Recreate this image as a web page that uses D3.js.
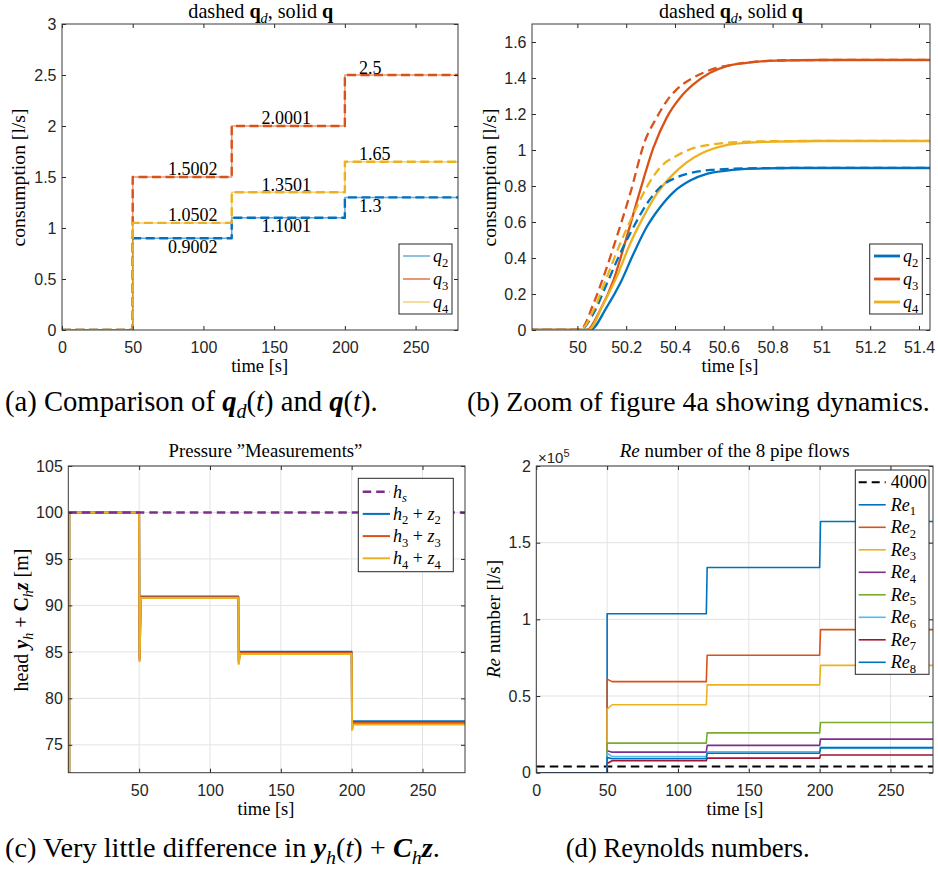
<!DOCTYPE html>
<html>
<head>
<meta charset="utf-8">
<script src="https://cdn.jsdelivr.net/npm/d3@7"></script>
<style>
body { margin: 0; background: #fff; }
svg text { white-space: pre; }
.tick text { font-family: "Liberation Sans", Arial, sans-serif; font-size: 16px; fill: #262626; }
</style>
</head>
<body>
<svg id="fig" width="938" height="871"></svg>
<script>
// ---------- data ----------
var colors = ["#0072BD", "#D95319", "#EDB120", "#7E2F8E", "#77AC30", "#4DBEEE", "#A2142F"];

// (a) demand steps: level starts at these times and holds until tEnd
var stepT = [0, 50, 120, 200];
var tEnd = 280;
var qd2 = [0, 0.9002, 1.1001, 1.3];
var qd3 = [0, 1.5002, 2.0001, 2.5];
var qd4 = [0, 1.0502, 1.3501, 1.65];
var labelT = [75, 141, 210];          // where the value labels sit (time)
var labelAbove = [false, true, true]; // q2 below, q3 & q4 above

// (b) zoom on the first step
var qd2T = [50.011, 50.066, 50.121, 50.175, 50.23, 50.284, 50.339, 50.407, 50.475, 50.557, 50.694, 50.885];
var qd2V = [0, 0.092, 0.258, 0.424, 0.572, 0.70, 0.793, 0.848, 0.876, 0.89, 0.898, 0.9002];
var q2T = [50.052, 50.121, 50.175, 50.23, 50.284, 50.339, 50.393, 50.462, 50.53, 50.612, 50.721, 50.885];
var q2V = [0, 0.129, 0.258, 0.424, 0.572, 0.682, 0.765, 0.83, 0.867, 0.885, 0.896, 0.9];
var qd3T = [50.011, 50.066, 50.107, 50.161, 50.216, 50.277, 50.325, 50.366, 50.407, 50.462, 50.516, 50.571, 50.639, 50.721, 50.885, 51.1];
var qd3V = [0, 0.147, 0.295, 0.516, 0.756, 1.051, 1.18, 1.272, 1.337, 1.392, 1.429, 1.456, 1.475, 1.49, 1.499, 1.5002];
var q3T = [50.038, 50.093, 50.148, 50.202, 50.257, 50.312, 50.366, 50.421, 50.475, 50.544, 50.612, 50.694, 50.817, 50.995];
var q3V = [0, 0.11, 0.277, 0.516, 0.774, 1.014, 1.18, 1.29, 1.364, 1.429, 1.466, 1.484, 1.497, 1.5];
var qd4T = [50.011, 50.066, 50.121, 50.175, 50.23, 50.284, 50.339, 50.407, 50.475, 50.557, 50.667, 50.817, 51.0];
var qd4V = [0, 0.11, 0.295, 0.479, 0.645, 0.793, 0.903, 0.968, 1.01, 1.032, 1.045, 1.049, 1.0502];
var q4T = [50.045, 50.107, 50.161, 50.216, 50.27, 50.325, 50.38, 50.448, 50.516, 50.598, 50.694, 50.817, 50.995];
var q4V = [0, 0.147, 0.295, 0.479, 0.627, 0.756, 0.848, 0.931, 0.986, 1.023, 1.04, 1.047, 1.05];

// (c) heads: level per step, and the dip right at each step
var hs = 100;
var h2 = [100, 90.96, 85.02, 77.54], h2dip = [84.3, 84.0, 76.9];
var h3 = [100, 90.87, 84.88, 77.35], h3dip = [84.1, 83.8, 76.7];
var h4 = [100, 90.79, 84.77, 77.18], h4dip = [84.0, 83.7, 76.6];
var hStart = 60;

// (d) Reynolds numbers per step, and value just after t = 50
var reLimit = 4000;
var re1 = [0, 103700, 133800, 163800], re1at50 = 103700;
var re2 = [0, 59400, 76600, 93300],    re2at50 = 61000;
var re3 = [0, 44300, 57300, 70000],    re3at50 = 41500;
var re4 = [0, 13400, 17800, 21900],    re4at50 = 14300;
var re5 = [0, 19300, 26000, 32700],    re5at50 = 19300;
var re6 = [0, 10500, 13700, 16500],    re6at50 = 12800;
var re7 = [0, 7800, 9500, 11500],      re7at50 = 6000;
var re8 = [0, 9100, 12700, 16200],     re8at50 = 10000;

// ---------- helpers ----------
var SERIF = '"Liberation Serif", "DejaVu Serif", serif';
var svg = d3.select("#fig");
var clipN = 0;

// rich text: segs = [[text, "b"/"i"/"bi", 1 sub | -1 sup], ...]
function richText(g, x, y, segs, size, anchor, rotate) {
    var t = g.append("text")
        .attr("x", x).attr("y", y)
        .attr("font-family", SERIF)
        .attr("font-size", size)
        .attr("fill", "#000")
        .attr("text-anchor", anchor || "start");
    if (rotate) t.attr("transform", "rotate(-90," + x + "," + y + ")");
    var shift = 0;
    segs.forEach(function(s) {
        var st = s[1] || "";
        var want = s[2] === 1 ? size * 0.25 : (s[2] === -1 ? -size * 0.4 : 0);
        var ts = t.append("tspan").text(s[0]).attr("dy", want - shift);
        shift = want;
        if (st.indexOf("i") >= 0) ts.attr("font-style", "italic");
        if (st.indexOf("b") >= 0) ts.attr("font-weight", "bold");
        if (s[2]) ts.attr("font-size", size * 0.7);
    });
    return t;
}

// same, but sized so the text runs to the given width (the reference uses a wider font)
function fitText(g, x, y, segs, width, anchor, rotate) {
    var t = richText(g, x, y, segs, 20, anchor, rotate);
    var w = t.node().getComputedTextLength();
    t.remove();
    return richText(g, x, y, segs, 20 * width / w, anchor, rotate);
}

function makePanel(f, xd, yd, grid, xt, yt) {
    var g = svg.append("g");
    var x = d3.scaleLinear().domain(xd).range([f.l, f.r]);
    var y = d3.scaleLinear().domain(yd).range([f.b, f.t]);
    if (grid) {
        g.selectAll("line.gx").data(xt).enter().append("line")
            .attr("x1", x).attr("x2", x).attr("y1", f.t).attr("y2", f.b)
            .attr("stroke", "#e3e3e3").attr("stroke-width", 1);
        g.selectAll("line.gy").data(yt).enter().append("line")
            .attr("y1", y).attr("y2", y).attr("x1", f.l).attr("x2", f.r)
            .attr("stroke", "#e3e3e3").attr("stroke-width", 1);
    }
    var id = "clip" + (clipN++);
    svg.append("clipPath").attr("id", id).append("rect")
        .attr("x", f.l).attr("y", f.t).attr("width", f.r - f.l).attr("height", f.b - f.t);
    var plot = g.append("g").attr("clip-path", "url(#" + id + ")");
    return { g: g, x: x, y: y, f: f, plot: plot, xt: xt, yt: yt };
}

function drawAxes(p, fmtX, fmtY) {
    var f = p.f, g = p.g;
    function style(a) { a.select(".domain").remove(); a.style("color", "#262626"); }
    g.append("g").attr("transform", "translate(0," + f.b + ")")
        .call(d3.axisBottom(p.x).tickValues(p.xt).tickFormat(fmtX).tickSizeInner(-4).tickSizeOuter(0).tickPadding(11.5))
        .call(style);
    g.append("g").attr("transform", "translate(" + f.l + ",0)")
        .call(d3.axisLeft(p.y).tickValues(p.yt).tickFormat(fmtY).tickSizeInner(-4).tickSizeOuter(0).tickPadding(5.5))
        .call(style);
    g.append("g").attr("transform", "translate(0," + f.t + ")")
        .call(d3.axisTop(p.x).tickValues(p.xt).tickFormat("").tickSizeInner(-4).tickSizeOuter(0))
        .call(style);
    g.append("g").attr("transform", "translate(" + f.r + ",0)")
        .call(d3.axisRight(p.y).tickValues(p.yt).tickFormat("").tickSizeInner(-4).tickSizeOuter(0))
        .call(style);
    g.append("rect").attr("x", f.l).attr("y", f.t)
        .attr("width", f.r - f.l).attr("height", f.b - f.t)
        .attr("fill", "none").attr("stroke", "#3a3a3a").attr("stroke-width", 1);
}

function drawPath(p, pts, color, width, dash, opacity, curve) {
    var line = d3.line().x(function(d) { return p.x(d[0]); })
        .y(function(d) { return p.y(d[1]); })
        .curve(curve || d3.curveLinear);
    p.plot.append("path").datum(pts)
        .attr("d", line)
        .attr("fill", "none")
        .attr("stroke", color)
        .attr("stroke-width", width)
        .attr("stroke-dasharray", dash || null)
        .attr("stroke-opacity", opacity || 1)
        .attr("stroke-linejoin", "round");
}

function drawLegend(g, box, rows, lineX, textX, items) {
    g.append("rect").attr("x", box.x).attr("y", box.y)
        .attr("width", box.w).attr("height", box.h)
        .attr("fill", "#fff").attr("stroke", "#262626").attr("stroke-width", 1);
    items.forEach(function(it, i) {
        var yy = rows[0] + i * rows[1];
        g.append("line").attr("x1", lineX[0]).attr("x2", lineX[1])
            .attr("y1", yy).attr("y2", yy)
            .attr("stroke", it.color).attr("stroke-width", it.width)
            .attr("stroke-opacity", it.opacity || 1)
            .attr("stroke-dasharray", it.dash || null);
        richText(g, textX, yy + 6, it.segs, 18);
    });
}

function stepPts(levels) {
    var pts = levels.map(function(v, i) { return [stepT[i], v]; });
    pts.push([tEnd, levels[levels.length - 1]]);
    return pts;
}

function zip(ts, vs, t0, t1) {
    var pts = [[t0, 0]];
    ts.forEach(function(t, i) { pts.push([t, vs[i]]); });
    pts.push([t1, vs[vs.length - 1]]);
    return pts;
}

function headPts(lev, dip) {
    var pts = [[0.7, hStart], [0.7, lev[0]]];
    for (var i = 1; i < lev.length; i++) {
        pts.push([stepT[i], lev[i - 1]], [stepT[i] + 0.3, dip[i - 1]], [stepT[i] + 1.2, lev[i]]);
    }
    pts.push([tEnd, lev[lev.length - 1]]);
    return pts;
}

function rePts(lev, at50) {
    var pts = [[0, 0], [50, 0], [50, at50], [53.5, lev[1]]];
    for (var i = 2; i < lev.length; i++) {
        pts.push([stepT[i], lev[i - 1]], [stepT[i] + 0.6, lev[i]]);
    }
    pts.push([tEnd, lev[lev.length - 1]]);
    return pts;
}

var fmt1 = function(d) { return String(+d.toFixed(1)); };
var fmt0 = function(d) { return String(d); };

// ---------- (a) ----------
var pa = makePanel({ l: 62, t: 24, r: 458, b: 330 }, [0, 280], [0, 3], false,
    [0, 50, 100, 150, 200, 250], [0, 0.5, 1, 1.5, 2, 2.5, 3]);
var seriesA = [qd2, qd3, qd4];
seriesA.forEach(function(s, i) { drawPath(pa, stepPts(s), colors[i], 1.5, null, 0.6, d3.curveStepAfter); });
seriesA.forEach(function(s, i) { drawPath(pa, stepPts(s), colors[i], 2.4, "9,4.5", 1, d3.curveStepAfter); });
seriesA.forEach(function(s, k) {
    for (var i = 1; i < s.length; i++) {
        var yy = pa.y(s[i]) + (labelAbove[k] ? -1.5 : 14.5);
        pa.g.append("text").attr("x", pa.x(labelT[i - 1])).attr("y", yy)
            .attr("font-family", SERIF).attr("font-size", 18).text(String(s[i]));
    }
});
drawAxes(pa, fmt0, fmt1);
drawLegend(pa.g, { x: 399, y: 244, w: 53, h: 70 }, [256, 23], [403, 430], 433, [
    { color: colors[0], width: 1.5, opacity: 0.6, segs: [["q", "i"], ["2", "", 1]] },
    { color: colors[1], width: 1.5, opacity: 0.8, segs: [["q", "i"], ["3", "", 1]] },
    { color: colors[2], width: 1.5, opacity: 0.6, segs: [["q", "i"], ["4", "", 1]] }
]);
var titleQ = [["dashed "], ["q", "b"], ["d", "i", 1], [", solid "], ["q", "b"]];
fitText(svg, 260.8, 17.5, titleQ, 145, "middle");
fitText(svg, 25, 177.5, [["consumption [l/s]"]], 138, "middle", true);
fitText(svg, 259.7, 372, [["time [s]"]], 57, "middle");

// ---------- (b) ----------
var pb = makePanel({ l: 532, t: 24, r: 930, b: 330 }, [49.814, 51.445], [0, 1.7], false,
    [50, 50.2, 50.4, 50.6, 50.8, 51, 51.2, 51.4], [0, 0.2, 0.4, 0.6, 0.8, 1, 1.2, 1.4, 1.6]);
var t0 = 49.8, t1 = 51.5;
drawPath(pb, zip(q2T, q2V, t0, t1), colors[0], 2.3, null, 1, d3.curveMonotoneX);
drawPath(pb, zip(q3T, q3V, t0, t1), colors[1], 2.3, null, 1, d3.curveMonotoneX);
drawPath(pb, zip(q4T, q4V, t0, t1), colors[2], 2.3, null, 1, d3.curveMonotoneX);
drawPath(pb, zip(qd2T, qd2V, t0, t1), colors[0], 2.3, "9,5", 1, d3.curveMonotoneX);
drawPath(pb, zip(qd3T, qd3V, t0, t1), colors[1], 2.3, "9,5", 1, d3.curveMonotoneX);
drawPath(pb, zip(qd4T, qd4V, t0, t1), colors[2], 2.3, "9,5", 1, d3.curveMonotoneX);
drawAxes(pb, fmt1, fmt1);
drawLegend(pb.g, { x: 869.7, y: 244, w: 52.6, h: 70 }, [256, 23], [874, 900], 903, [
    { color: colors[0], width: 2.8, segs: [["q", "i"], ["2", "", 1]] },
    { color: colors[1], width: 2.8, segs: [["q", "i"], ["3", "", 1]] },
    { color: colors[2], width: 2.8, segs: [["q", "i"], ["4", "", 1]] }
]);
fitText(svg, 731, 17.5, titleQ, 144, "middle");
fitText(svg, 496, 177.5, [["consumption [l/s]"]], 138, "middle", true);
fitText(svg, 730, 372, [["time [s]"]], 57, "middle");

// ---------- (c) ----------
var pc = makePanel({ l: 68.3, t: 466, r: 465, b: 772.7 }, [0, 280], [72, 105], true,
    [50, 100, 150, 200, 250], [75, 80, 85, 90, 95, 100, 105]);
drawPath(pc, headPts(h2, h2dip), colors[0], 2);
drawPath(pc, headPts(h3, h3dip), colors[1], 2);
drawPath(pc, headPts(h4, h4dip), colors[2], 2);
drawPath(pc, [[0, hs], [tEnd, hs]], colors[3], 2.4, "8.5,5");
drawAxes(pc, fmt0, fmt0);
drawLegend(pc.g, { x: 358.3, y: 478.3, w: 95, h: 93.4 }, [491.7, 22.2], [362.7, 390], 393, [
    { color: colors[3], width: 2.4, dash: "8.5,5", segs: [["h", "i"], ["s", "i", 1]] },
    { color: colors[0], width: 2, segs: [["h", "i"], ["2", "", 1], [" + "], ["z", "i"], ["2", "", 1]] },
    { color: colors[1], width: 2, segs: [["h", "i"], ["3", "", 1], [" + "], ["z", "i"], ["3", "", 1]] },
    { color: colors[2], width: 2, segs: [["h", "i"], ["4", "", 1], [" + "], ["z", "i"], ["4", "", 1]] }
]);
fitText(svg, 265.5, 457, [["Pressure \u201DMeasurements\u201D"]], 194, "middle");
fitText(svg, 28, 620, [["head "], ["y", "bi"], ["h", "i", 1], [" + "], ["C", "b"], ["h", "i", 1], ["z", "bi"], [" [m]"]], 143, "middle", true);
fitText(svg, 266, 815, [["time [s]"]], 57, "middle");

// ---------- (d) ----------
var pd = makePanel({ l: 536.3, t: 466, r: 933, b: 772.7 }, [0, 280], [0, 200000], true,
    [0, 50, 100, 150, 200, 250], [0, 50000, 100000, 150000, 200000]);
drawPath(pd, [[0, reLimit], [tEnd, reLimit]], "#000", 2, "8.5,5");
var reSeries = [[re1, re1at50], [re2, re2at50], [re3, re3at50], [re4, re4at50],
    [re5, re5at50], [re6, re6at50], [re7, re7at50], [re8, re8at50]];
reSeries.forEach(function(s, i) { drawPath(pd, rePts(s[0], s[1]), colors[i % 7], 1.6); });
drawAxes(pd, fmt0, function(d) { return String(d / 1e5); });
var legD = [{ color: "#000", width: 2, dash: "8,5", segs: [["4000"]] }];
reSeries.forEach(function(s, i) {
    legD.push({ color: colors[i % 7], width: 1.6, segs: [["Re", "i"], [String(i + 1), "", 1]] });
});
drawLegend(pd.g, { x: 855.3, y: 470, w: 73.7, h: 204.3 }, [482.3, 22.5], [858.7, 885.7], 890.7, legD);
pd.g.append("text").attr("x", 538).attr("y", 463)
    .attr("font-family", '"Liberation Sans", Arial, sans-serif').attr("font-size", 15).attr("fill", "#262626")
    .call(function(t) {
        t.append("tspan").text("\u00D710");
        t.append("tspan").text("5").attr("font-size", 11).attr("dy", -6);
    });
fitText(svg, 734.7, 457, [["Re", "i"], [" number of the 8 pipe flows"]], 230, "middle");
fitText(svg, 500, 619, [["Re", "i"], [" number [l/s]"]], 118, "middle", true);
fitText(svg, 735, 815, [["time [s]"]], 57, "middle");

// ---------- captions ----------
fitText(svg, 5, 411, [["(a) Comparison of "], ["q", "bi"], ["d", "i", 1], ["("], ["t", "i"], [") and "], ["q", "bi"], ["("], ["t", "i"], [")."]], 373);
fitText(svg, 467, 411, [["(b) Zoom of figure 4a showing dynamics."]], 463);
fitText(svg, 5, 857, [["(c) Very little difference in "], ["y", "bi"], ["h", "i", 1], ["("], ["t", "i"], [") + "], ["C", "bi"], ["h", "i", 1], ["z", "bi"], ["."]], 435);
fitText(svg, 565.7, 857, [["(d) Reynolds numbers."]], 244);
</script>
</body>
</html>
